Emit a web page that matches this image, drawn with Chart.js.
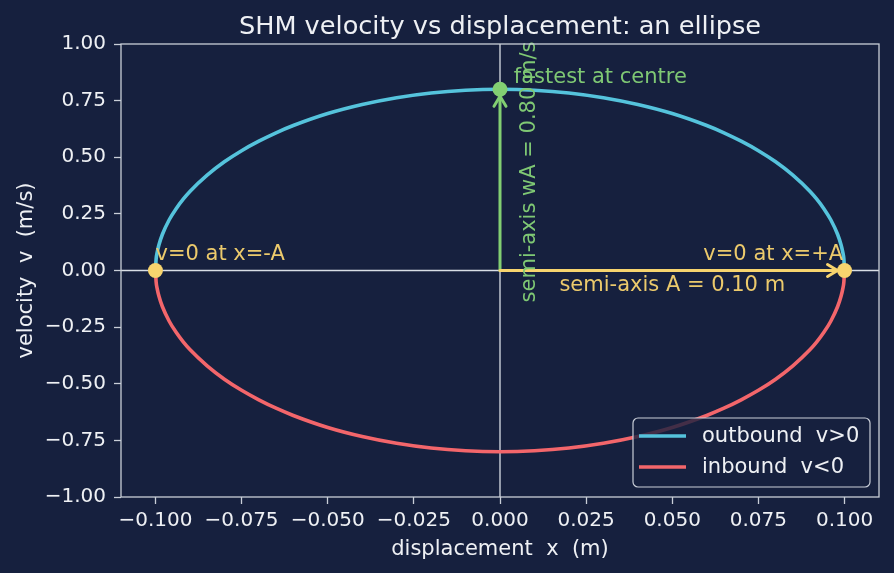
<!DOCTYPE html>
<html>
<head>
<meta charset="utf-8">
<title>SHM velocity vs displacement</title>
<script src="https://cdn.jsdelivr.net/npm/chart.js@4.4.1/dist/chart.umd.min.js"></script>
<style>
  html, body { margin: 0; padding: 0; background: #16203e; }
  #wrap { width: 894px; height: 573px; }
</style>
</head>
<body>
<div id="wrap"><canvas id="shmChart" width="894" height="573"></canvas></div>
<script>
// ---- data ----
var amplitude = 0.10;   // m
var vMax = 0.80;        // m/s (omega * A)

var displacement = [-0.1, -0.0998, -0.0995, -0.099, -0.098, -0.096, -0.094, -0.092, -0.09, -0.085,
  -0.08, -0.075, -0.07, -0.065, -0.06, -0.05, -0.04, -0.03, -0.02, -0.01, 0,
  0.01, 0.02, 0.03, 0.04, 0.05, 0.06, 0.065, 0.07, 0.075, 0.08, 0.085,
  0.09, 0.092, 0.094, 0.096, 0.098, 0.099, 0.0995, 0.0998, 0.1];

var vOutbound = [0, 0.051, 0.080, 0.113, 0.159, 0.224, 0.273, 0.314, 0.349, 0.421,
  0.480, 0.529, 0.571, 0.608, 0.640, 0.693, 0.733, 0.763, 0.784, 0.796, 0.800,
  0.796, 0.784, 0.763, 0.733, 0.693, 0.640, 0.608, 0.571, 0.529, 0.480, 0.421,
  0.349, 0.314, 0.273, 0.224, 0.159, 0.113, 0.080, 0.051, 0];

var vInbound = [0, -0.051, -0.080, -0.113, -0.159, -0.224, -0.273, -0.314, -0.349, -0.421,
  -0.480, -0.529, -0.571, -0.608, -0.640, -0.693, -0.733, -0.763, -0.784, -0.796, -0.800,
  -0.796, -0.784, -0.763, -0.733, -0.693, -0.640, -0.608, -0.571, -0.529, -0.480, -0.421,
  -0.349, -0.314, -0.273, -0.224, -0.159, -0.113, -0.080, -0.051, 0];

var seriesLabels = ['outbound  v>0', 'inbound  v<0'];
var xTickValues = [-0.1, -0.075, -0.05, -0.025, 0, 0.025, 0.05, 0.075, 0.1];
var yTickValues = [-1, -0.75, -0.5, -0.25, 0, 0.25, 0.5, 0.75, 1];

// ---- look ----
var FONT = '"DejaVu Sans", sans-serif';
var BG = '#16203e';
var TXT = '#eef0f4';
var SPINE = '#c9ced8';
var CYAN = '#55c3dc';
var RED = '#f3666b';
var YELLOW = '#f7d46e';
var GREEN = '#82cf72';
var YELLOW_T = '#ecca6c';
var GREEN_T = '#7fc874';

function toPoints(xs, ys) {
  var out = [];
  for (var i = 0; i < xs.length; i++) out.push({ x: xs[i], y: ys[i] });
  return out;
}

function fmtTick(v, d) {
  return (v < -1e-9 ? '\u2212' : '') + Math.abs(v).toFixed(d);
}

function drawArrow(c, x1, y1, x2, y2, color, shrink) {
  var ang = Math.atan2(y2 - y1, x2 - x1);
  var ex = x2 - shrink * Math.cos(ang), ey = y2 - shrink * Math.sin(ang);
  var hl = 10, hw = 6;
  c.save();
  c.strokeStyle = color;
  c.lineWidth = 3;
  c.lineCap = 'round';
  c.lineJoin = 'round';
  c.beginPath();
  c.moveTo(x1, y1);
  c.lineTo(ex, ey);
  c.stroke();
  c.beginPath();
  c.moveTo(ex - hl * Math.cos(ang) + hw * Math.sin(ang), ey - hl * Math.sin(ang) - hw * Math.cos(ang));
  c.lineTo(ex, ey);
  c.lineTo(ex - hl * Math.cos(ang) - hw * Math.sin(ang), ey - hl * Math.sin(ang) + hw * Math.cos(ang));
  c.stroke();
  c.restore();
}

// text notes, anchored in data units
var notes = [
  { text: 'fastest at centre', x: 0.004, y: 0.854, color: GREEN_T, align: 'left' },
  { text: 'v=0 at x=-A', x: -0.1, y: 0.07, color: YELLOW_T, align: 'left' },
  { text: 'v=0 at x=+A', x: 0.0996, y: 0.07, color: YELLOW_T, align: 'right' },
  { text: 'semi-axis A = 0.10 m', x: 0.05, y: -0.067, color: YELLOW_T, align: 'center' },
  { text: 'semi-axis wA = 0.80 m/s', x: 0.0087, y: 0.435, color: GREEN_T, align: 'center', rotate: true }
];

var shmExtras = {
  id: 'shmExtras',
  beforeDraw: function (chart) {
    var c = chart.ctx;
    c.save();
    c.fillStyle = BG;
    c.fillRect(0, 0, chart.width, chart.height);
    c.restore();
  },
  beforeDatasetsDraw: function (chart) {
    var c = chart.ctx, a = chart.chartArea;
    var x0 = chart.scales.x.getPixelForValue(0), y0 = chart.scales.y.getPixelForValue(0);
    c.save();
    c.strokeStyle = '#d9dee6';
    c.lineWidth = 1.3;
    c.beginPath();
    c.moveTo(a.left, y0); c.lineTo(a.right, y0);
    c.moveTo(x0, a.top); c.lineTo(x0, a.bottom);
    c.stroke();
    c.restore();
  },
  beforeDatasetDraw: function (chart, args) {
    if (args.index !== 0) return;
    var xs = chart.scales.x, ys = chart.scales.y, c = chart.ctx;
    var ox = xs.getPixelForValue(0), oy = ys.getPixelForValue(0);
    drawArrow(c, ox, oy, ox, ys.getPixelForValue(vMax), GREEN, 7);
    drawArrow(c, ox, oy, xs.getPixelForValue(amplitude), oy, YELLOW, 7);
  },
  afterDatasetsDraw: function (chart) {
    var xs = chart.scales.x, ys = chart.scales.y, c = chart.ctx;
    c.save();
    c.font = '21px ' + FONT;
    c.textBaseline = 'middle';
    notes.forEach(function (n) {
      var px = xs.getPixelForValue(n.x), py = ys.getPixelForValue(n.y);
      c.fillStyle = n.color;
      c.textAlign = n.align;
      if (n.rotate) {
        c.save();
        c.translate(px, py);
        c.rotate(-Math.PI / 2);
        c.fillText(n.text, 0, 0);
        c.restore();
      } else {
        c.fillText(n.text, px, py);
      }
    });
    c.restore();
  },
  afterDraw: function (chart) {
    var c = chart.ctx, a = chart.chartArea;
    c.save();
    // frame
    c.strokeStyle = SPINE;
    c.lineWidth = 1.3;
    c.strokeRect(a.left, a.top, a.right - a.left, a.bottom - a.top);
    // title
    c.fillStyle = TXT;
    c.font = '25.6px ' + FONT;
    c.textAlign = 'center';
    c.textBaseline = 'alphabetic';
    c.fillText('SHM velocity vs displacement: an ellipse', (a.left + a.right) / 2, 34);
    // legend
    var bx = 633, by = 418, bw = 237, bh = 69;
    c.beginPath();
    c.roundRect(bx, by, bw, bh, 5);
    c.fillStyle = 'rgba(22,32,62,0.8)';
    c.fill();
    c.strokeStyle = SPINE;
    c.lineWidth = 1.2;
    c.stroke();
    c.font = '21px ' + FONT;
    c.textAlign = 'left';
    c.textBaseline = 'middle';
    chart.data.datasets.slice(1).forEach(function (ds, i) {
      var ly = 436 + i * 31;
      c.strokeStyle = ds.borderColor;
      c.lineWidth = 3.6;
      c.beginPath();
      c.moveTo(639, ly); c.lineTo(686, ly);
      c.stroke();
      c.fillStyle = TXT;
      c.fillText(ds.label, 702, ly + 1);
    });
    c.restore();
  }
};

var ctx = document.getElementById('shmChart').getContext('2d');

var shmChart = new Chart(ctx, {
  type: 'scatter',
  data: {
    datasets: [
      {
        label: 'markers',
        data: [{ x: -amplitude, y: 0 }, { x: amplitude, y: 0 }, { x: 0, y: vMax }],
        pointRadius: 7.5,
        pointBackgroundColor: [YELLOW, YELLOW, GREEN],
        pointBorderColor: [YELLOW, YELLOW, GREEN],
        pointBorderWidth: 0,
        showLine: false,
        order: 0
      },
      {
        label: seriesLabels[0],
        data: toPoints(displacement, vOutbound),
        borderColor: CYAN,
        backgroundColor: CYAN,
        borderWidth: 3.6,
        pointRadius: 0,
        showLine: true,
        cubicInterpolationMode: 'monotone',
        order: 1
      },
      {
        label: seriesLabels[1],
        data: toPoints(displacement, vInbound),
        borderColor: RED,
        backgroundColor: RED,
        borderWidth: 3.6,
        pointRadius: 0,
        showLine: true,
        cubicInterpolationMode: 'monotone',
        order: 1
      }
    ]
  },
  options: {
    responsive: false,
    animation: false,
    layout: { padding: { top: 44, right: 15, bottom: 0, left: 0 } },
    plugins: {
      legend: { display: false },
      title: { display: false },
      tooltip: { enabled: false }
    },
    scales: {
      x: {
        type: 'linear',
        min: -0.11,
        max: 0.11,
        afterBuildTicks: function (s) { s.ticks = xTickValues.map(function (v) { return { value: v }; }); },
        afterFit: function (s) { s.height = 76; },
        ticks: {
          color: TXT, font: { family: FONT, size: 20 }, padding: 5,
          autoSkip: false, maxRotation: 0,
          callback: function (v) { return fmtTick(v, 3); }
        },
        grid: { drawOnChartArea: false, drawTicks: true, tickLength: 7, tickColor: SPINE, tickWidth: 1.3 },
        border: { display: false },
        title: {
          display: true, text: 'displacement  x  (m)', color: TXT,
          font: { family: FONT, size: 21 }, padding: { top: 0, bottom: 11 }
        }
      },
      y: {
        type: 'linear',
        min: -1,
        max: 1,
        afterBuildTicks: function (s) { s.ticks = yTickValues.map(function (v) { return { value: v }; }); },
        afterFit: function (s) { s.width = 121; },
        ticks: {
          color: TXT, font: { family: FONT, size: 20 }, padding: 8,
          autoSkip: false,
          callback: function (v) { return fmtTick(v, 2); }
        },
        grid: { drawOnChartArea: false, drawTicks: true, tickLength: 7, tickColor: SPINE, tickWidth: 1.3 },
        border: { display: false },
        title: {
          display: true, text: 'velocity  v  (m/s)', color: TXT,
          font: { family: FONT, size: 21 }, padding: { top: 14, bottom: 0 }
        }
      }
    }
  },
  plugins: [shmExtras]
});
</script>
</body>
</html>
